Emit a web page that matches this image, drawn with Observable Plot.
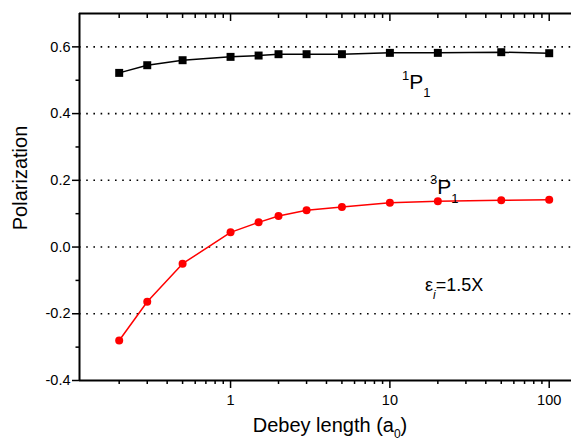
<!DOCTYPE html>
<html><head><meta charset="utf-8">
<script src="https://cdn.jsdelivr.net/npm/d3@7"></script>
<script src="https://cdn.jsdelivr.net/npm/@observablehq/plot@0.6"></script>
<style>
body{margin:0;background:#fff}
svg{font-family:Arial,"Liberation Sans",sans-serif}
</style>
</head><body><div id="chart"></div>
<script>
// Data
const debye = [0.2, 0.3, 0.5, 1, 1.5, 2, 3, 5, 10, 20, 50, 100];
const singlet = [0.522, 0.545, 0.560, 0.570, 0.574, 0.578, 0.578, 0.578, 0.582, 0.582, 0.584, 0.581];
const triplet = [-0.280, -0.164, -0.050, 0.044, 0.074, 0.093, 0.110, 0.120, 0.133, 0.137, 0.140, 0.142];

// Ticks
const xMajorTicks = [1, 10, 100];
const xMinorTicks = [0.2, 0.3, 0.4, 0.5, 0.6, 0.7, 0.8, 0.9, 2, 3, 4, 5, 6, 7, 8, 9, 20, 30, 40, 50, 60, 70, 80, 90];
const yMajorTicks = [-0.4, -0.2, 0, 0.2, 0.4, 0.6];
const yMinorTicks = [-0.3, -0.1, 0.1, 0.3, 0.5];
const gridValues = [-0.2, 0, 0.2, 0.4, 0.6];
const xDomain = [0.1127, 138];
const yDomain = [-0.4, 0.7];

// Annotation anchors (data coordinates)
const singletLabelAt = [12, 0.471];
const tripletLabelAt = [18, 0.158];
const energyLabelAt = [16.75, -0.133];

const font = "Arial, 'Liberation Sans', sans-serif";

function annotations(index, scales, values, dims) {
  const {x, y} = scales;
  const g = d3.create("svg:g").attr("font-family", font).attr("fill", "black").attr("text-anchor", "start");

  // 1P1
  const t1 = g.append("text").attr("x", x(singletLabelAt[0])).attr("y", y(singletLabelAt[1])).attr("font-size", 21);
  t1.append("tspan").attr("font-size", 13).attr("dy", -9).text("1");
  t1.append("tspan").attr("dy", 9).text("P");
  t1.append("tspan").attr("font-size", 13).attr("dy", 8).text("1");

  // 3P1
  const t2 = g.append("text").attr("x", x(tripletLabelAt[0])).attr("y", y(tripletLabelAt[1])).attr("font-size", 21);
  t2.append("tspan").attr("font-size", 13).attr("dy", -10).text("3");
  t2.append("tspan").attr("dy", 10).text("P");
  t2.append("tspan").attr("font-size", 13).attr("dy", 9).text("1");

  // eps_i = 1.5X
  const t3 = g.append("text").attr("x", x(energyLabelAt[0])).attr("y", y(energyLabelAt[1])).attr("font-size", 18);
  t3.append("tspan").text("ε");
  t3.append("tspan").attr("font-size", 12).attr("font-style", "italic").attr("dy", 8).text("i");
  t3.append("tspan").attr("dy", -8).text("=1.5X");

  // Axis titles
  g.append("text")
    .attr("transform", "translate(27,178) rotate(-90)")
    .attr("text-anchor", "middle").attr("font-size", 20)
    .text("Polarization");

  const xt = g.append("text")
    .attr("x", 330).attr("y", 432)
    .attr("text-anchor", "middle").attr("font-size", 20);
  xt.append("tspan").text("Debey length (a");
  xt.append("tspan").attr("font-size", 12).attr("dy", 6).text("0");
  xt.append("tspan").attr("dy", -6).text(")");
  return g.node();
}

const chart = Plot.plot({
  width: 571,
  height: 440,
  marginLeft: 79,
  marginRight: 0,
  marginTop: 13,
  marginBottom: 60,
  style: {fontFamily: font, fontSize: "14.5px", color: "black", background: "white"},
  x: {type: "log", domain: xDomain, axis: null},
  y: {domain: yDomain, axis: null},
  marks: [
    Plot.ruleY(gridValues, {stroke: "black", strokeWidth: 1.6, strokeDasharray: "1.6,5.6"}),
    Plot.ruleX([xDomain[0]], {stroke: "black", strokeWidth: 2}),
    Plot.ruleY([yDomain[0]], {stroke: "black", strokeWidth: 2}),
    Plot.ruleY([yDomain[1]], {stroke: "black", strokeWidth: 2}),

    Plot.axisX({anchor: "bottom", ticks: xMajorTicks, tickSize: 8, text: null, label: null, strokeWidth: 1.5}),
    Plot.axisX({anchor: "bottom", ticks: xMinorTicks, tickSize: 4, text: null, label: null, strokeWidth: 1.5}),
    Plot.axisX({anchor: "bottom", ticks: xMajorTicks, tickSize: 0, tickPadding: 14, tickFormat: d => String(d), label: null}),
    Plot.axisX({anchor: "top", ticks: xMajorTicks, tickSize: 7, dy: 7, text: null, label: null, strokeWidth: 1.5}),
    Plot.axisX({anchor: "top", ticks: xMinorTicks, tickSize: 4, dy: 4, text: null, label: null, strokeWidth: 1.5}),

    Plot.axisY({anchor: "left", ticks: yMajorTicks, tickSize: 7, text: null, label: null, strokeWidth: 1.5}),
    Plot.axisY({anchor: "left", ticks: yMinorTicks, tickSize: 3.5, text: null, label: null, strokeWidth: 1.5}),
    Plot.axisY({anchor: "left", ticks: yMajorTicks, tickSize: 0, tickPadding: 9, tickFormat: d => d.toFixed(1), label: null}),

    Plot.line(debye, {x: d => d, y: (d, i) => singlet[i], stroke: "black", strokeWidth: 1.5}),
    Plot.dot(debye, {x: d => d, y: (d, i) => singlet[i], symbol: "square", r: 4.5, fill: "black", stroke: "none"}),
    Plot.line(debye, {x: d => d, y: (d, i) => triplet[i], stroke: "#ff0000", strokeWidth: 1.5}),
    Plot.dot(debye, {x: d => d, y: (d, i) => triplet[i], r: 4, fill: "#ff0000", stroke: "none"}),

    annotations
  ]
});
document.getElementById("chart").append(chart);
</script>
</body></html>
